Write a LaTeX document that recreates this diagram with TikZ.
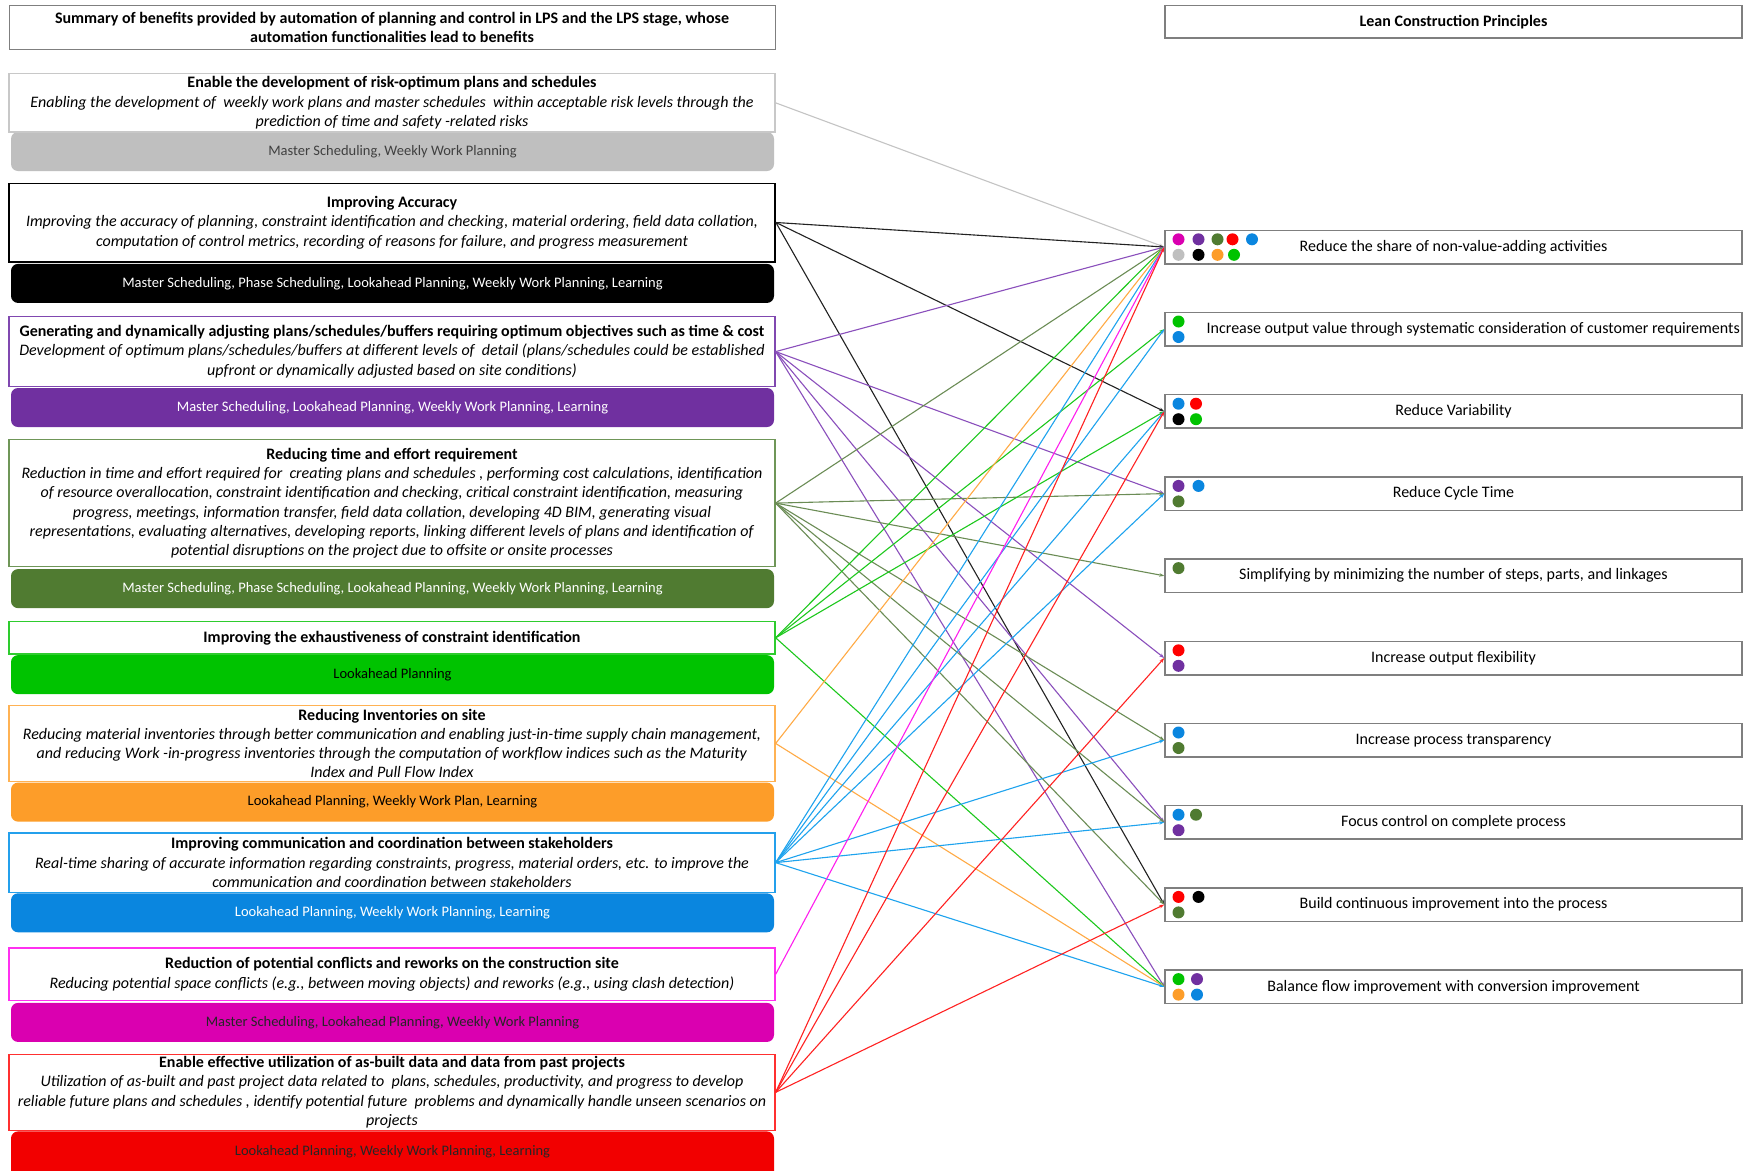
\documentclass[tikz,border=0pt]{standalone}
\usepackage{fontspec}
\setmainfont{Carlito}
\usetikzlibrary{arrows.meta}

% fills of the stage bars and the principle dots
\definecolor{cgray}{HTML}{BFBFBF}
\definecolor{cpurple}{HTML}{7030A0}
\definecolor{colive}{HTML}{507B31}
\definecolor{cgreen}{HTML}{00C300}
\definecolor{corange}{HTML}{FD9D29}
\definecolor{cblue}{HTML}{0A86DF}
\definecolor{cmagenta}{HTML}{DA00B0}
\definecolor{cred}{HTML}{F20000}
% frames of the benefit boxes
\definecolor{fgray}{HTML}{C8C8C8}
\definecolor{fpurple}{HTML}{8048B0}
\definecolor{folive}{HTML}{6F9658}
\definecolor{fgreen}{HTML}{2ECC2E}
\definecolor{forange}{HTML}{FFB253}
\definecolor{fblue}{HTML}{24A0EC}
\definecolor{fmagenta}{HTML}{FF30F0}
\definecolor{fred}{HTML}{FF3030}
\definecolor{frame}{HTML}{7F7F7F}
% connector colours
\definecolor{lgray}{HTML}{C4C4C4}
\definecolor{lblack}{HTML}{222222}
\definecolor{lpurple}{HTML}{8A4FBC}
\definecolor{lolive}{HTML}{6B8C55}
\definecolor{lgreen}{HTML}{1DC81D}
\definecolor{lorange}{HTML}{FFAA45}
\definecolor{lblue}{HTML}{1EA3EE}
\definecolor{lmagenta}{HTML}{FF1EEE}
\definecolor{lred}{HTML}{FF2222}

\newcommand\pdot[4]{\node[pdotc=#1] (#2) at (#3,#4) {};}

\begin{document}
\begin{tikzpicture}[x=1pt,y=-1pt,
  lbox/.style={draw=#1, line width=1.3pt, fill=white, minimum width=766pt,
    inner sep=0pt, align=center, font=\fontsize{16}{19.3}\selectfont},
  bar/.style={fill=#1, rounded corners=7pt, minimum width=763pt,
    minimum height=39pt, inner sep=0pt, font=\fontsize{14.5}{17}\selectfont},
  rbox/.style={draw=frame, line width=1.5pt, fill=white, minimum width=577pt,
    minimum height=33.5pt, inner sep=0pt, font=\fontsize{16}{19.3}\selectfont},
  pdotc/.style={circle, fill=#1, minimum size=12pt, inner sep=0pt},
  link/.style={draw=#1, line width=1.1pt, -{Stealth[length=5pt,width=3.5pt]}}
]
\useasboundingbox (0,0) rectangle (1753,1170);
\fill[white] (0,0) rectangle (1753,1170);

% ---------- left column: benefits and LPS stages ----------
\node[lbox=frame, line width=1pt, minimum height=43.6pt] (title) at (392,27.4)
  {\textbf{Summary of benefits provided by automation of planning and control in LPS and the LPS stage, whose}\\
   \textbf{automation functionalities lead to benefits}};

\node[bar=cgray, text=black!75] (s1) at (392.5,151.5) {Master Scheduling, Weekly Work Planning};
\node[lbox=fgray, minimum height=58.1pt] (b1) at (392,102.85)
  {\textbf{Enable the development of risk-optimum plans and schedules}\\
   \textit{Enabling the development of \ weekly work plans and master schedules \ within acceptable risk levels through the}\\
   \textit{prediction of time and safety -related risks}};

\node[bar=black, text=white] (s2) at (392.5,283.4) {Master Scheduling, Phase Scheduling, Lookahead Planning, Weekly Work Planning, Learning};
\node[lbox=black, line width=1.8pt, minimum height=78.2pt] (b2) at (392,222.5)
  {\textbf{Improving Accuracy}\\
   \textit{Improving the accuracy of planning, constraint identification and checking, material ordering, field data collation,}\\
   \textit{computation of control metrics, recording of reasons for failure, and progress measurement}};

\node[bar=cpurple, text=white] (s3) at (392.5,407.5) {Master Scheduling, Lookahead Planning, Weekly Work Planning, Learning};
\node[lbox=fpurple, minimum height=70.4pt] (b3) at (392,351.6)
  {\textbf{Generating and dynamically adjusting plans/schedules/buffers requiring optimum objectives such as time \& cost}\\
   \textit{Development of optimum plans/schedules/buffers at different levels of \ detail (plans/schedules could be established}\\
   \textit{upfront or dynamically adjusted based on site conditions)}};

\node[bar=colive, text=white] (s4) at (392.5,588.6) {Master Scheduling, Phase Scheduling, Lookahead Planning, Weekly Work Planning, Learning};
\node[lbox=folive, minimum height=127.4pt] (b4) at (392,503.1)
  {\textbf{Reducing time and effort requirement}\\
   \textit{Reduction in time and effort required for \ creating plans and schedules , performing cost calculations, identification}\\
   \textit{of resource overallocation, constraint identification and checking, critical constraint identification, measuring}\\
   \textit{progress, meetings, information transfer, field data collation, developing 4D BIM, generating visual}\\
   \textit{representations, evaluating alternatives, developing reports, linking different levels of plans and identification of}\\
   \textit{potential disruptions on the project due to offsite or onsite processes}};

\node[bar=cgreen, text=black] (s5) at (392.5,674.6) {Lookahead Planning};
\node[lbox=fgreen, minimum height=32.4pt] (b5) at (392,637.8)
  {\textbf{Improving the exhaustiveness of constraint identification}};

\node[bar=corange, text=black] (s6) at (392.5,802.1) {Lookahead Planning, Weekly Work Plan, Learning};
\node[lbox=forange, minimum height=76.1pt] (b6) at (392,743.45)
  {\textbf{Reducing Inventories on site}\\
   \textit{Reducing material inventories through better communication and enabling just-in-time supply chain management,}\\
   \textit{and reducing Work -in-progress inventories through the computation of workflow indices such as the Maturity}\\
   \textit{Index and Pull Flow Index}};

\node[bar=cblue, text=white] (s7) at (392.5,912.8) {Lookahead Planning, Weekly Work Planning, Learning};
\node[lbox=fblue, minimum height=59.2pt] (b7) at (392,862.6)
  {\textbf{Improving communication and coordination between stakeholders}\\
   \textit{Real-time sharing of accurate information regarding constraints, progress, material orders, etc. to improve the}\\
   \textit{communication and coordination between stakeholders}};

\node[bar=cmagenta, text=black!85] (s8) at (392.5,1022.4) {Master Scheduling, Lookahead Planning, Weekly Work Planning};
\node[lbox=fmagenta, minimum height=52.6pt] (b8) at (392,974.3)
  {\textbf{Reduction of potential conflicts and reworks on the construction site}\\
   \textit{Reducing potential space conflicts (e.g., between moving objects) and reworks (e.g., using clash detection)}};

\node[bar=cred, text=black!85, minimum height=52pt] (s9) at (392.5,1157.4) {};
\node[font=\fontsize{14.5}{17}\selectfont, text=black!85] (s9t) at (392.5,1151.5) {Lookahead Planning, Weekly Work Planning, Learning};
\node[lbox=fred, minimum height=76pt] (b9) at (392,1092.3)
  {\textbf{Enable effective utilization of as-built data and data from past projects}\\
   \textit{Utilization of as-built and past project data related to \ plans, schedules, productivity, and progress to develop}\\
   \textit{reliable future plans and schedules , identify potential future \ problems and dynamically handle unseen scenarios on}\\
   \textit{projects}};

% ---------- right column: lean construction principles ----------
\node[rbox, minimum height=32.4pt] (lcp) at (1453.5,21.8) {\textbf{Lean Construction Principles}};

\node[rbox] (r1) at (1453.5,247) {Reduce the share of non-value-adding activities};
\node[rbox] (r2) at (1453.5,329.2) {};
\node[anchor=east, inner sep=0pt, font=\fontsize{16}{19.3}\selectfont] (r2t) at (1740,329.2)
  {Increase output value through systematic consideration of customer requirements};
\node[rbox] (r3) at (1453.5,411.4) {Reduce Variability};
\node[rbox] (r4) at (1453.5,493.6) {Reduce Cycle Time};
\node[rbox] (r5) at (1453.5,575.8) {Simplifying by minimizing the number of steps, parts, and linkages};
\node[rbox] (r6) at (1453.5,658) {Increase output flexibility};
\node[rbox] (r7) at (1453.5,740.2) {Increase process transparency};
\node[rbox] (r8) at (1453.5,822.4) {Focus control on complete process};
\node[rbox] (r9) at (1453.5,904.6) {Build continuous improvement into the process};
\node[rbox] (r10) at (1453.5,986.8) {Balance flow improvement with conversion improvement};

% dots naming the benefits behind each principle
\pdot{cmagenta}{d1a}{1178.5}{239.3}
\pdot{cpurple}{d1b}{1198.5}{239.3}
\pdot{colive}{d1c}{1217.5}{239.3}
\pdot{red}{d1d}{1232.5}{239.3}
\pdot{cblue}{d1e}{1252}{239.3}
\pdot{cgray}{d1f}{1178.5}{254.8}
\pdot{black}{d1g}{1198.5}{254.8}
\pdot{corange}{d1h}{1217.5}{254.8}
\pdot{cgreen}{d1i}{1234}{254.8}

\pdot{cgreen}{d2a}{1178.5}{321.5}
\pdot{cblue}{d2b}{1178.5}{337}

\pdot{cblue}{d3a}{1178.5}{403.7}
\pdot{red}{d3b}{1196}{403.7}
\pdot{black}{d3c}{1178.5}{419.2}
\pdot{cgreen}{d3d}{1196}{419.2}

\pdot{cpurple}{d4a}{1178.5}{485.9}
\pdot{cblue}{d4b}{1198.5}{485.9}
\pdot{colive}{d4c}{1178.5}{501.4}

\pdot{colive}{d5a}{1178.5}{568.1}

\pdot{red}{d6a}{1178.5}{650.3}
\pdot{cpurple}{d6b}{1178.5}{665.8}

\pdot{cblue}{d7a}{1178.5}{732.5}
\pdot{colive}{d7b}{1178.5}{748}

\pdot{cblue}{d8a}{1178.5}{814.7}
\pdot{colive}{d8b}{1196}{814.7}
\pdot{cpurple}{d8c}{1178.5}{830.2}

\pdot{red}{d9a}{1178.5}{896.9}
\pdot{black}{d9b}{1198.5}{896.9}
\pdot{colive}{d9c}{1178.5}{912.4}

\pdot{cgreen}{d10a}{1178.5}{979.1}
\pdot{cpurple}{d10b}{1197}{979.1}
\pdot{corange}{d10c}{1178.5}{994.6}
\pdot{cblue}{d10d}{1197}{994.6}

% ---------- connectors from benefits to principles ----------
\draw[link=lgray] (b1.east) -- (r1.west);

\draw[link=lblack] (b2.east) -- (r1.west);
\draw[link=lblack] (b2.east) -- (r3.west);
\draw[link=lblack] (b2.east) -- (r9.west);

\draw[link=lpurple] (b3.east) -- (r1.west);
\draw[link=lpurple] (b3.east) -- (r4.west);
\draw[link=lpurple] (b3.east) -- (r6.west);
\draw[link=lpurple] (b3.east) -- (r8.west);
\draw[link=lpurple] (b3.east) -- (r10.west);

\draw[link=lolive] (b4.east) -- (r1.west);
\draw[link=lolive] (b4.east) -- (r4.west);
\draw[link=lolive] (b4.east) -- (r5.west);
\draw[link=lolive] (b4.east) -- (r7.west);
\draw[link=lolive] (b4.east) -- (r8.west);
\draw[link=lolive] (b4.east) -- (r9.west);

\draw[link=lgreen] (b5.east) -- (r1.west);
\draw[link=lgreen] (b5.east) -- (r2.west);
\draw[link=lgreen] (b5.east) -- (r3.west);
\draw[link=lgreen] (b5.east) -- (r10.west);

\draw[link=lorange] (b6.east) -- (r1.west);
\draw[link=lorange] (b6.east) -- (r10.west);

\draw[link=lblue] (b7.east) -- (r1.west);
\draw[link=lblue] (b7.east) -- (r2.west);
\draw[link=lblue] (b7.east) -- (r3.west);
\draw[link=lblue] (b7.east) -- (r4.west);
\draw[link=lblue] (b7.east) -- (r7.west);
\draw[link=lblue] (b7.east) -- (r8.west);
\draw[link=lblue] (b7.east) -- (r10.west);

\draw[link=lmagenta] (b8.east) -- (r1.west);

\draw[link=lred] (b9.east) -- (r1.west);
\draw[link=lred] (b9.east) -- (r3.west);
\draw[link=lred] (b9.east) -- (r6.west);
\draw[link=lred] (b9.east) -- (r9.west);
\end{tikzpicture}
\end{document}
